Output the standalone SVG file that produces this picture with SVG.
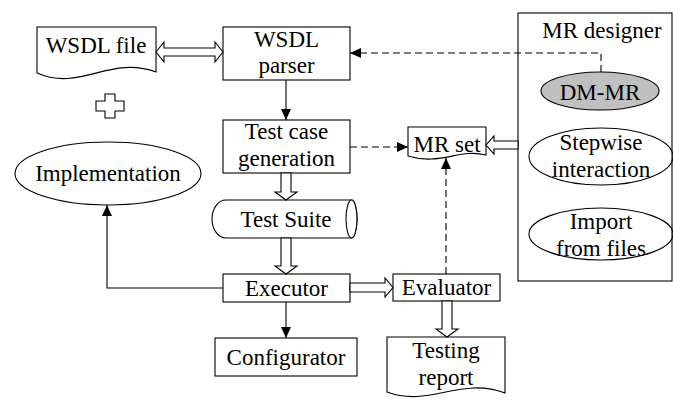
<svg xmlns="http://www.w3.org/2000/svg" width="673" height="400" viewBox="0 0 673 400">
<style>
.s{fill:#fff;stroke:#000;stroke-width:1.1}
.n{fill:none;stroke:#000;stroke-width:1.1}
.t{font-family:'Liberation Serif','Times New Roman',Times,'DejaVu Serif',serif;font-size:23px;fill:#000;text-anchor:middle}
.c{fill:none;stroke:#000;stroke-width:1.1}
.d{fill:none;stroke:#000;stroke-width:1.1;stroke-dasharray:7,4}
.h{fill:#fff;stroke:#000;stroke-width:1.1;stroke-linejoin:miter}
</style>
<defs>
<marker id="ah" markerUnits="userSpaceOnUse" markerWidth="12" markerHeight="10" refX="11" refY="5" orient="auto">
<path d="M0,0 L11,5 L0,10 Z" fill="#000"/>
</marker>
</defs>
<rect width="673" height="400" fill="#fff"/>

<g id="mr-designer">
<rect class="s" x="518" y="13" width="154" height="268"/>
<text class="t" x="602" y="38" font-family="Liberation Serif">MR designer</text>
</g>
<g id="wsdl-file">
<path class="s" d="M37,27 H156 V72 C110,55 80,92 37,73 Z"/>
<text class="t" x="96" y="53" font-family="Liberation Serif">WSDL file</text>
</g>
<g id="plus">
<path class="s" d="M105,94 H115 V101 H124 V111 H115 V118 H105 V111 H96 V101 H105 Z"/>
</g>
<g id="wsdl-parser">
<rect class="s" x="223" y="27" width="127" height="53"/>
<text class="t" x="286.5" y="47" font-family="Liberation Serif">WSDL</text>
<text class="t" x="286.5" y="73" font-family="Liberation Serif">parser</text>
</g>
<g id="test-case-generation">
<rect class="s" x="223" y="120" width="127" height="53"/>
<text class="t" x="286.5" y="139" font-family="Liberation Serif">Test case</text>
<text class="t" x="286.5" y="166" font-family="Liberation Serif">generation</text>
</g>
<g id="implementation">
<ellipse class="s" cx="108" cy="173.5" rx="93" ry="31.5"/>
<text class="t" x="108" y="181" font-family="Liberation Serif">Implementation</text>
</g>
<g id="test-suite">
<path class="s" d="M226,200 H351.5 A5.5,19 0 0 1 351.5,238 H226 A14,19 0 0 1 226,200 Z"/>
<ellipse class="s" cx="351.5" cy="219" rx="5.5" ry="19"/>
<text class="t" x="286" y="227" font-family="Liberation Serif">Test Suite</text>
</g>
<g id="executor">
<rect class="s" x="223" y="274" width="127" height="28"/>
<text class="t" x="286.5" y="296" font-family="Liberation Serif">Executor</text>
</g>
<g id="configurator">
<rect class="s" x="215" y="338" width="142" height="38"/>
<text class="t" x="286" y="365" font-family="Liberation Serif">Configurator</text>
</g>
<g id="mr-set">
<path class="s" d="M408,127 H486 V155 C460,148 440,166 408,156 Z"/>
<text class="t" x="447" y="152" font-family="Liberation Serif">MR set</text>
</g>
<g id="evaluator">
<rect class="s" x="393" y="274" width="107" height="27"/>
<text class="t" x="446.5" y="295" font-family="Liberation Serif">Evaluator</text>
</g>
<g id="testing-report">
<path class="s" d="M387,337 H505 V393 C460,376 430,408 387,392 Z"/>
<text class="t" x="446" y="358" font-family="Liberation Serif">Testing</text>
<text class="t" x="446" y="385" font-family="Liberation Serif">report</text>
</g>
<g id="dm-mr">
<ellipse cx="600" cy="91" rx="59" ry="19" fill="#c0c0c0" stroke="#000" stroke-width="1.1"/>
<text class="t" x="600" y="100" font-family="Liberation Serif">DM-MR</text>
</g>
<g id="stepwise-interaction">
<ellipse class="n" cx="601" cy="156.5" rx="72" ry="28.5"/>
<text class="t" x="601" y="150" font-family="Liberation Serif">Stepwise</text>
<text class="t" x="601" y="177" font-family="Liberation Serif">interaction</text>
</g>
<g id="import-from-files">
<ellipse class="n" cx="601" cy="234" rx="72" ry="26"/>
<text class="t" x="601" y="229" font-family="Liberation Serif">Import</text>
<text class="t" x="601" y="256" font-family="Liberation Serif">from files</text>
</g>

<g id="connectors">
<path class="h" d="M156,52 L164,42 V48 H215 V42 L223,52 L215,62 V56 H164 V62 Z"/>
<path class="c" d="M286,80 V120" marker-end="url(#ah)"/>
<path class="h" d="M281,173 H291 V192 H297 L286,200 L275,192 H281 Z"/>
<path class="h" d="M281,238 H291 V266 H297 L286,274 L275,266 H281 Z"/>
<path class="c" d="M223,288 H107 V205" marker-end="url(#ah)"/>
<path class="c" d="M286,302 V338" marker-end="url(#ah)"/>
<path class="h" d="M350,283 V292 H385 V297 L393,287.5 L385,278 V283 Z"/>
<path class="h" d="M442,301 H452 V329 H458 L447,337 L436,329 H442 Z"/>
<path class="h" d="M518,141 V149 H494 V154 L486,145 L494,136 V141 Z"/>
<path class="d" d="M350,147 H408" marker-end="url(#ah)"/>
<path class="d" d="M446,274 V158" marker-end="url(#ah)"/>
<path class="d" d="M601,72 V53 H350" marker-end="url(#ah)"/>
</g>
</svg>
